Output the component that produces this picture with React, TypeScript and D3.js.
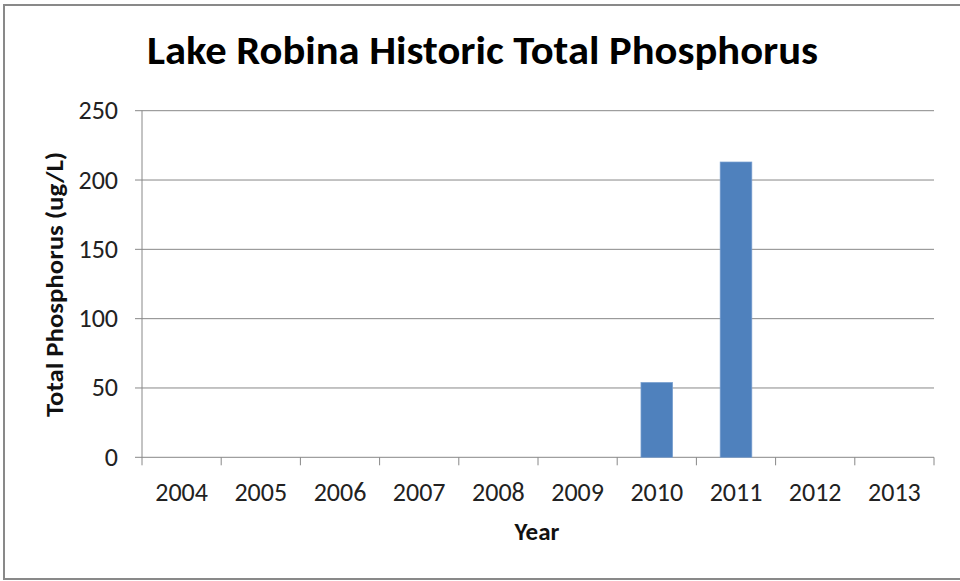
import React from "react";
import * as d3 from "d3";

const years = ["2004", "2005", "2006", "2007", "2008", "2009", "2010", "2011", "2012", "2013"];
const phosphorus: (number | null)[] = [null, null, null, null, null, null, 54, 213, null, null];
const yTicks = [0, 50, 100, 150, 200, 250];

const W = 960;
const H = 581;
const M = { left: 142, right: 934, top: 110.7, bottom: 457.3 };
const FONT = "Calibri, Carlito, 'Open Sans', 'Liberation Sans', sans-serif";

export default function App() {
  const x = d3.scaleBand<string>().domain(years).range([M.left, M.right]).paddingInner(0.6).paddingOuter(0.3);
  const xb = d3.scaleBand<string>().domain(years).range([M.left, M.right]);
  const y = d3.scaleLinear().domain([0, 250]).range([M.bottom, M.top]);
  const grid = "#888888";
  return (
    <svg width={W} height={H} style={{ position: "absolute", left: 0, top: 0, background: "#fff" }} fontFamily={FONT}>
      <rect x={4} y={5} width={W + 10} height={574} fill="#fff" stroke="#898989" strokeWidth={2} />
      <text x={482.5} y={64} textAnchor="middle" fontSize={40} fontWeight="bold" fill="#000" textLength={671} lengthAdjust="spacingAndGlyphs">
        Lake Robina Historic Total Phosphorus
      </text>
      {yTicks.map((t) => (
        <g key={t}>
          <line x1={M.left - 7} x2={M.right} y1={y(t)} y2={y(t)} stroke={grid} strokeWidth={1} />
          <text x={118} y={y(t) + 8.5} textAnchor="end" fontSize={26} fill="#222">
            {t}
          </text>
        </g>
      ))}
      <line x1={M.left} x2={M.left} y1={M.top} y2={M.bottom} stroke={grid} strokeWidth={1} />
      {years.map((yr, i) => (
        <g key={yr}>
          <line x1={xb(yr)!} x2={xb(yr)!} y1={M.bottom} y2={M.bottom + 8} stroke={grid} />
          {i === years.length - 1 && (
            <line x1={M.right} x2={M.right} y1={M.bottom} y2={M.bottom + 8} stroke={grid} />
          )}
          <text x={xb(yr)! + xb.bandwidth() / 2} y={500.5} textAnchor="middle" fontSize={26} fill="#222">
            {yr}
          </text>
        </g>
      ))}
      {years.map((yr, i) =>
        phosphorus[i] == null ? null : (
          <rect
            key={"b" + yr}
            x={x(yr)!}
            y={y(phosphorus[i] as number)}
            width={x.bandwidth()}
            height={M.bottom - y(phosphorus[i] as number)}
            fill="#4f81bd"
            stroke="#7aa0d0"
            strokeWidth={0.7}
          />
        )
      )}
      <text x={537} y={540} textAnchor="middle" fontSize={25} fontWeight="bold" fill="#111">
        Year
      </text>
      <text
        transform={`translate(63, 284.4) rotate(-90)`}
        textAnchor="middle"
        fontSize={25}
        fontWeight="bold"
        fill="#111"
        textLength={265}
        lengthAdjust="spacingAndGlyphs"
      >
        Total Phosphorus (ug/L)
      </text>
    </svg>
  );
}
